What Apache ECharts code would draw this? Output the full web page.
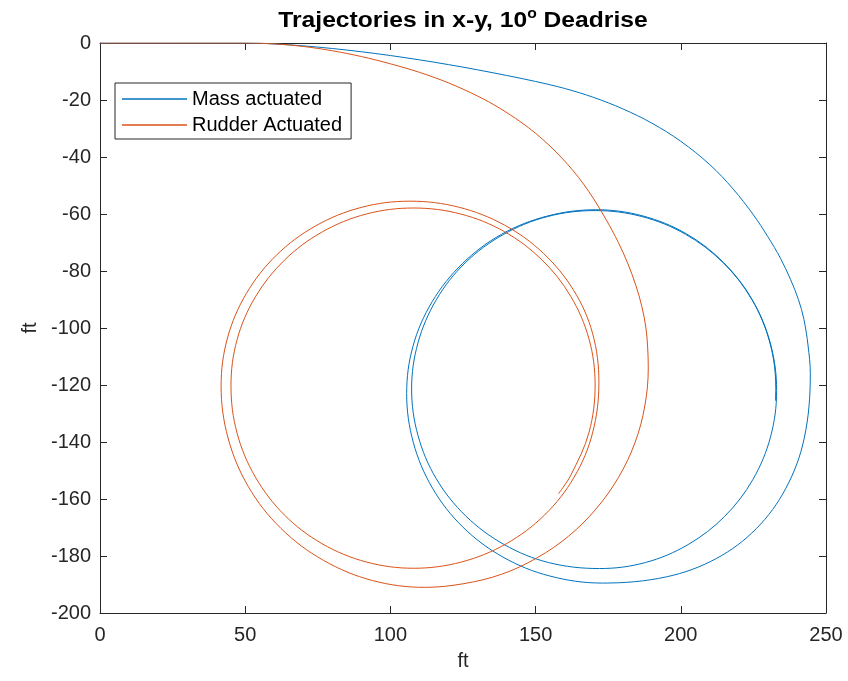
<!DOCTYPE html>
<html>
<head>
<meta charset="utf-8">
<script src="https://cdn.jsdelivr.net/npm/echarts@6/dist/echarts.min.js"></script>
<style>
  html, body { margin: 0; padding: 0; background: #ffffff; }
  #chart { width: 848px; height: 681px; }
</style>
</head>
<body>
<div id="chart"></div>
<script>
// ---- Data (x ft, y ft) ----
const seriesNames = ['Mass actuated', 'Rudder Actuated'];

const massActuated = [
  [0,0],[25,0],[50,0],[60,-0.33],[70,-1.0],[80,-1.93],[90,-3.07],[100,-4.4],[110,-5.91],
  [120,-7.58],[130,-9.41],[140,-11.39],[150,-13.5],[160,-15.95],[170,-19.1],[180,-23.1],
  [190,-28.1],[200,-34.5],[210,-42.7],[218,-51.2],[225,-60.3],[230,-68.0],[234.3,-75.5],
  [237.8,-83],[240.5,-90],[242.4,-97],[243.8,-106],[244.6,-116],
  [242.5,-138.7],[236.2,-156.2],[226.0,-170.4],[212.2,-180.9],[195.1,-187.3],[173,-189.5],
  [154.8,-187.0],[138.8,-180.4],[125.0,-169.9],[114.5,-156.2],[107.9,-140.2],[105.6,-123],
  [107.8,-106.3],[114.4,-90.75],[124.8,-77.4],[138.3,-67.1],[154.1,-60.7],[171,-58.5],
  [187.0,-60.7],[202,-67],[214.8,-77.1],[224.7,-90.25],[230.9,-105.6],[233,-122],
  [230.9,-138.2],[224.8,-153.2],[215.1,-166.1],[202.5,-176],[187.8,-182.3],[172,-184.4],
  [154.5,-182.3],[139.2,-176],[126,-166],[115.8,-152.9],[109.5,-137.7],[107.3,-121.4],
  [109.5,-105.2],[115.8,-90.1],[125.8,-77.1],[138.9,-67.2],[154.1,-60.9],[170.5,-58.8],
  [186.6,-60.9],[201.6,-67.1],[214.5,-77],[224.4,-89.9],[230.6,-104.9],[232.7,-121],
  [232.6,-125.5]
];

const rudderActuated = [
  [0,0],[25,0],[50,0],[60,-0.3],[70,-1.22],[80,-2.72],[90,-4.75],[100,-7.3],[110,-10.3],
  [120,-14.0],[130,-18.6],[137.5,-22.8],[145,-27.8],[150,-31.7],[155,-36.2],[159,-40.3],
  [163,-44.9],[166.5,-49.5],[170,-54.7],[174.3,-62],[178.5,-70],[181.8,-77.5],[184.5,-85],
  [186.6,-92.5],[188.0,-100],[188.6,-107],[188.8,-114],
  [187.6,-127.4],[184.2,-140.3],[178.5,-152.5],[170.8,-163.5],[161.4,-173],[150.4,-180.7],
  [138.3,-186.4],[125.3,-189.7],[112,-191],
  [93.8,-188.6],[76.9,-181.5],[62.3,-170.3],[51.1,-155.7],[44.1,-138.6],[41.7,-120.3],
  [43.9,-103.5],[50.4,-87.9],[60.7,-74.5],[74.2,-64.2],[89.9,-57.7],[106.7,-55.5],
  [123.5,-57.6],[139.3,-63.9],[152.7,-73.8],[163.1,-86.75],[169.6,-101.8],[171.8,-119],
  [169.6,-136.9],[163.3,-152.3],[153.1,-165.6],[139.9,-175.7],[124.5,-182.1],[108,-184.3],
  [91.7,-182.1],[76.5,-175.7],[63.5,-165.6],[53.5,-152.3],[47.2,-136.9],[45.1,-120.3],
  [47.2,-104.1],[53.5,-89.1],[63.5,-76.2],[76.5,-66.3],[91.7,-60.0],[108,-57.9],
  [124.2,-60.0],[139.3,-66.2],[152.2,-76.1],[162.1,-88.9],[168.4,-103.9],[170.5,-120],
  [168.4,-136.6],[162.1,-151.7],[157.9,-158.1]
];

const xTicks = { min: 0, max: 250, interval: 50 };
const yTicks = { min: -200, max: 0, interval: 20 };
const titleText = 'Trajectories in x-y, 10{sup|o} Deadrise';
const xLabel = 'ft';
const yLabel = 'ft';

// ---- Chart ----
const FONT = 'Liberation Sans, Arial, Helvetica, sans-serif';
const AX = '#262626';
const BLUE = '#0072BD';
const ORANGE = '#D95319';
const chart = echarts.init(document.getElementById('chart'), null, { renderer: 'canvas' });

const baseAxis = {
  axisLine: { show: true, onZero: false, lineStyle: { color: AX, width: 1 } },
  axisTick: { show: true, inside: true, length: 7, lineStyle: { color: AX, width: 1 } },
  splitLine: { show: false },
  axisLabel: { color: AX, fontSize: 20, fontFamily: FONT }
};

chart.setOption({
  backgroundColor: '#ffffff',
  animation: false,
  graphic: [{
    type: 'text',
    x: 463, y: 21,
    scaleX: 1.12,
    style: {
      text: titleText,
      fill: '#000000',
      font: 'bold 22px ' + FONT,
      align: 'center',
      verticalAlign: 'middle',
      lineHeight: 28,
      rich: {
        sup: { fontSize: 14, fontWeight: 'bold', fontFamily: FONT, fill: '#000000', lineHeight: 28, verticalAlign: 'top' }
      }
    }
  }],
  grid: { left: 100, right: 22, top: 43, bottom: 68, containLabel: false },
  legend: {
    show: true,
    orient: 'vertical',
    left: 115, top: 83,
    data: [
      { name: seriesNames[0], icon: 'rect', itemStyle: { color: BLUE } },
      { name: seriesNames[1], icon: 'rect', itemStyle: { color: ORANGE } }
    ],
    backgroundColor: '#ffffff',
    borderColor: AX, borderWidth: 1,
    padding: [5, 9, 3, 7],
    itemWidth: 65, itemHeight: 1.3, itemGap: 4,
    textStyle: { fontSize: 20, fontFamily: FONT, color: '#000000', lineHeight: 22 }
  },
  xAxis: [
    Object.assign({}, baseAxis, {
      type: 'value', position: 'bottom', min: xTicks.min, max: xTicks.max, interval: xTicks.interval,
      name: xLabel, nameLocation: 'middle', nameGap: 38,
      nameTextStyle: { fontSize: 20, fontFamily: FONT, color: AX },
      axisLabel: { color: AX, fontSize: 20, fontFamily: FONT, margin: 12 }
    }),
    Object.assign({}, baseAxis, {
      type: 'value', position: 'top', min: xTicks.min, max: xTicks.max, interval: xTicks.interval,
      axisLabel: { show: false }
    })
  ],
  yAxis: [
    Object.assign({}, baseAxis, {
      type: 'value', position: 'left', min: yTicks.min, max: yTicks.max, interval: yTicks.interval,
      name: yLabel, nameLocation: 'middle', nameGap: 58,
      nameTextStyle: { fontSize: 20, fontFamily: FONT, color: AX },
      axisLabel: { color: AX, fontSize: 20, fontFamily: FONT, margin: 9 }
    }),
    Object.assign({}, baseAxis, {
      type: 'value', position: 'right', min: yTicks.min, max: yTicks.max, interval: yTicks.interval,
      axisLabel: { show: false }
    })
  ],
  series: [
    {
      name: seriesNames[0], type: 'line', xAxisIndex: 0, yAxisIndex: 0,
      data: massActuated, symbol: 'none', smooth: 0.35,
      lineStyle: { color: BLUE, width: 1 }, itemStyle: { color: BLUE }
    },
    {
      name: seriesNames[1], type: 'line', xAxisIndex: 0, yAxisIndex: 0,
      data: rudderActuated, symbol: 'none', smooth: 0.35,
      lineStyle: { color: ORANGE, width: 1 }, itemStyle: { color: ORANGE }
    }
  ]
});
</script>
</body>
</html>
